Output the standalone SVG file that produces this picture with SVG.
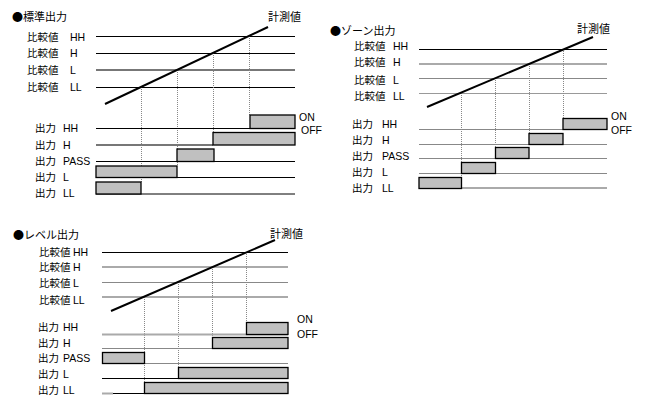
<svg xmlns="http://www.w3.org/2000/svg" width="650" height="409" viewBox="0 0 650 409">
<style>
.t{font-family:"Liberation Sans","Noto Sans CJK JP",sans-serif;font-size:10.5px;fill:#000}
.h{font-family:"Noto Sans CJK JP",sans-serif;font-size:11px;fill:#000}
.k{stroke:#000;stroke-width:1;fill:none}
.g1{stroke:#777;stroke-width:2;fill:none}
.g2{stroke:#aaa;stroke-width:2;fill:none}
.g3{stroke:#888;stroke-width:1;fill:none}
.g4{stroke:#999;stroke-width:1;fill:none}
.d{stroke:#000;stroke-width:2;fill:none}
.dot{stroke:#888;stroke-width:1;stroke-dasharray:1 1;fill:none}
.b{fill:#c0c0c0;stroke:#000;stroke-width:1.3}
</style>
<rect width="650" height="409" fill="#fff"/>

<g id="panel-standard">
<text class="h" x="12" y="21">●標準出力</text>
<text class="h" x="268" y="21">計測値</text>
<text class="t" x="27" y="41">比較値 <tspan x="70">HH</tspan></text>
<text class="t" x="27" y="57">比較値 <tspan x="70">H</tspan></text>
<text class="t" x="27" y="74">比較値 <tspan x="70">L</tspan></text>
<text class="t" x="27" y="91">比較値 <tspan x="70">LL</tspan></text>
<text class="t" x="35" y="132">出力 <tspan x="63">HH</tspan></text>
<text class="t" x="35" y="149">出力 <tspan x="63">H</tspan></text>
<text class="t" x="35" y="165">出力 <tspan x="63">PASS</tspan></text>
<text class="t" x="35" y="181">出力 <tspan x="63">L</tspan></text>
<text class="t" x="35" y="197">出力 <tspan x="63">LL</tspan></text>
<text class="t" x="299" y="121">ON</text>
<text class="t" x="301" y="134">OFF</text>
<g id="p1-lines">
<line class="k" x1="96" y1="36.5" x2="295" y2="36.5"/>
<line class="k" x1="96" y1="53.5" x2="295" y2="53.5"/>
<line class="g1" x1="96" y1="70" x2="295" y2="70"/>
<line class="k" x1="96" y1="87.5" x2="295" y2="87.5"/>
<line class="dot" x1="141.5" y1="87" x2="141.5" y2="182"/>
<line class="dot" x1="177.5" y1="70" x2="177.5" y2="166"/>
<line class="dot" x1="213.5" y1="53" x2="213.5" y2="132"/>
<line class="dot" x1="249.5" y1="36" x2="249.5" y2="115"/>
<line class="d" x1="105" y1="104" x2="268" y2="27"/>
<line class="k" x1="96" y1="128.5" x2="295" y2="128.5"/>
<line class="g1" x1="96" y1="145" x2="213" y2="145"/>
<line class="k" x1="96" y1="161.5" x2="295" y2="161.5"/>
<line class="k" x1="96" y1="177.5" x2="295" y2="177.5"/>
<line class="k" x1="96" y1="194" x2="295" y2="194"/>
</g>
<rect class="b" x="250" y="115" width="45" height="13.5"/>
<rect class="b" x="213" y="132.5" width="82" height="12.5"/>
<rect class="b" x="177" y="149" width="37" height="12.5"/>
<rect class="b" x="96" y="166" width="81" height="11.5"/>
<rect class="b" x="96" y="182" width="45" height="12"/>
</g>

<g id="panel-zone">
<text class="h" x="330" y="35">●ゾーン出力</text>
<text class="h" x="577" y="33">計測値</text>
<text class="t" x="354" y="50">比較値 <tspan x="393">HH</tspan></text>
<text class="t" x="354" y="66">比較値 <tspan x="393">H</tspan></text>
<text class="t" x="354" y="84">比較値 <tspan x="393">L</tspan></text>
<text class="t" x="354" y="100">比較値 <tspan x="393">LL</tspan></text>
<text class="t" x="352" y="128">出力 <tspan x="382">HH</tspan></text>
<text class="t" x="352" y="144">出力 <tspan x="382">H</tspan></text>
<text class="t" x="352" y="160">出力 <tspan x="382">PASS</tspan></text>
<text class="t" x="352" y="176">出力 <tspan x="382">L</tspan></text>
<text class="t" x="352" y="192">出力 <tspan x="382">LL</tspan></text>
<text class="t" x="611" y="120">ON</text>
<text class="t" x="611" y="134">OFF</text>
<g id="p2-lines">
<line class="k" x1="419" y1="49.5" x2="607" y2="49.5"/>
<line class="g2" x1="419" y1="64" x2="607" y2="64"/>
<line class="g3" x1="419" y1="78.5" x2="607" y2="78.5"/>
<line class="g4" x1="419" y1="93.5" x2="607" y2="93.5"/>
<line class="dot" x1="461.5" y1="93" x2="461.5" y2="178"/>
<line class="dot" x1="495.5" y1="78" x2="495.5" y2="147"/>
<line class="dot" x1="529.5" y1="64" x2="529.5" y2="133"/>
<line class="dot" x1="563.5" y1="49" x2="563.5" y2="118"/>
<line class="d" x1="427" y1="107" x2="593" y2="37"/>
<line class="g3" x1="419" y1="129.5" x2="607" y2="129.5"/>
<line class="g3" x1="419" y1="144.5" x2="607" y2="144.5"/>
<line class="g3" x1="419" y1="158.5" x2="607" y2="158.5"/>
<line class="g3" x1="419" y1="173.5" x2="607" y2="173.5"/>
<line class="g2" x1="419" y1="188" x2="607" y2="188"/>
</g>
<rect class="b" x="563" y="118.5" width="44" height="11"/>
<rect class="b" x="529" y="133.5" width="34" height="11"/>
<rect class="b" x="495.5" y="147.5" width="33.5" height="11"/>
<rect class="b" x="461.5" y="162.5" width="34" height="11"/>
<rect class="b" x="419" y="177.5" width="42.5" height="11"/>
</g>

<g id="panel-level">
<text class="h" x="13" y="239">●レベル出力</text>
<text class="h" x="270" y="238">計測値</text>
<text class="t" x="39" y="256">比較値 <tspan x="73">HH</tspan></text>
<text class="t" x="39" y="271">比較値 <tspan x="73">H</tspan></text>
<text class="t" x="39" y="287">比較値 <tspan x="73">L</tspan></text>
<text class="t" x="39" y="304">比較値 <tspan x="73">LL</tspan></text>
<text class="t" x="38" y="331">出力 <tspan x="63">HH</tspan></text>
<text class="t" x="38" y="347">出力 <tspan x="63">H</tspan></text>
<text class="t" x="38" y="362">出力 <tspan x="63">PASS</tspan></text>
<text class="t" x="38" y="378">出力 <tspan x="63">L</tspan></text>
<text class="t" x="38" y="394">出力 <tspan x="63">LL</tspan></text>
<text class="t" x="297" y="323">ON</text>
<text class="t" x="297" y="338">OFF</text>
<g id="p3-lines">
<line class="k" x1="102" y1="252.5" x2="288" y2="252.5"/>
<line class="g2" x1="102" y1="267" x2="288" y2="267"/>
<line class="g3" x1="102" y1="282.5" x2="288" y2="282.5"/>
<line class="g2" x1="102" y1="297" x2="288" y2="297"/>
<line class="dot" x1="144.5" y1="297" x2="144.5" y2="383"/>
<line class="dot" x1="178.5" y1="282" x2="178.5" y2="368"/>
<line class="dot" x1="212.5" y1="267" x2="212.5" y2="338"/>
<line class="dot" x1="246.5" y1="252" x2="246.5" y2="323"/>
<line class="d" x1="111" y1="311" x2="275" y2="240"/>
<line class="g2" x1="102" y1="334.5" x2="288" y2="334.5"/>
<line class="g3" x1="102" y1="348.5" x2="212" y2="348.5"/>
<line class="g3" x1="102" y1="363.5" x2="288" y2="363.5"/>
<line class="k" x1="102" y1="378.5" x2="178" y2="378.5"/>
<line class="g2" x1="102" y1="393.5" x2="113" y2="393.5"/>
<line class="k" x1="113" y1="393.5" x2="144" y2="393.5"/>
</g>
<rect class="b" x="246.5" y="322.5" width="41.5" height="12"/>
<rect class="b" x="212.5" y="337.5" width="75.5" height="11"/>
<rect class="b" x="102.5" y="352.5" width="42" height="11"/>
<rect class="b" x="178.5" y="367.5" width="109.5" height="11"/>
<rect class="b" x="144.5" y="382.5" width="143.5" height="11"/>
</g>
</svg>
